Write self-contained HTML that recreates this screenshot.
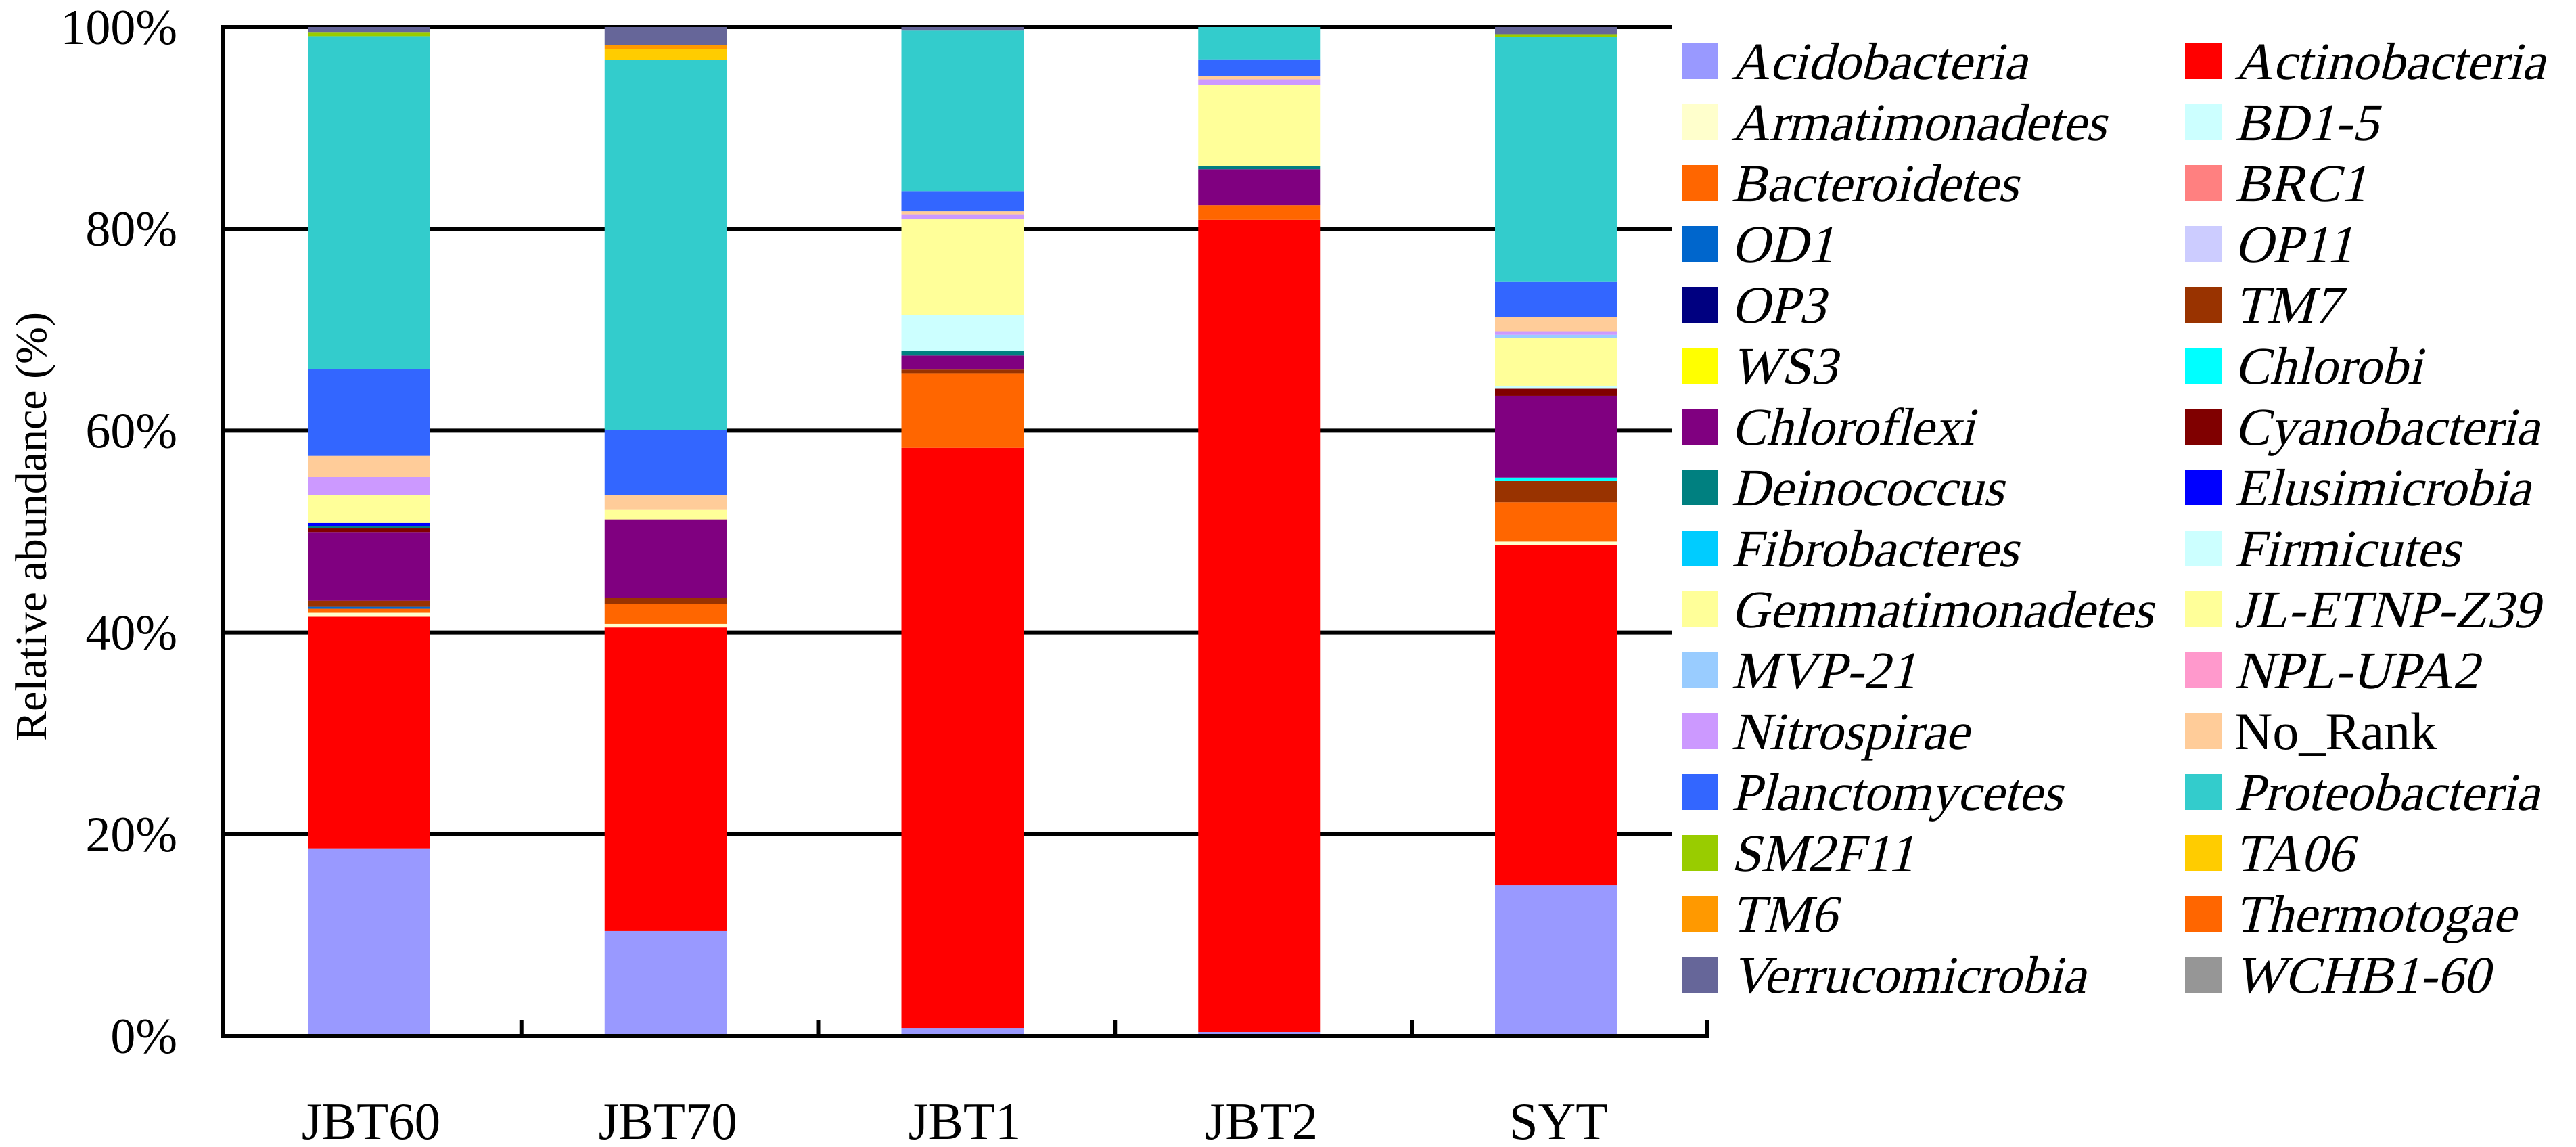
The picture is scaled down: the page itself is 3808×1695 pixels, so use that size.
<!DOCTYPE html>
<html><head><meta charset="utf-8"><style>
html,body{margin:0;padding:0;background:#fff;font-family:"Liberation Serif","Times New Roman",serif;}
svg{display:block;}
text{font-family:"Liberation Serif","Times New Roman",serif;}
</style></head><body>
<svg id="chart" width="3808" height="1695" viewBox="0 0 3808 1695" xmlns="http://www.w3.org/2000/svg">
<g id="grid"></g>
<g id="bars"></g>
<g id="axes"></g>
<g id="legend"></g>
<text x="0" y="0" font-size="66" text-anchor="middle" transform="translate(68,778) rotate(-90)">Relative abundance (%)</text>
</svg>
<script>
const categories = ["JBT60","JBT70","JBT1","JBT2","SYT"];
const phyla = ["Acidobacteria","Actinobacteria","Armatimonadetes","BD1-5","Bacteroidetes","BRC1","OD1","OP11","OP3","TM7","WS3","Chlorobi","Chloroflexi","Cyanobacteria","Deinococcus","Elusimicrobia","Fibrobacteres","Firmicutes","Gemmatimonadetes","JL-ETNP-Z39","MVP-21","NPL-UPA2","Nitrospirae","No_Rank","Planctomycetes","Proteobacteria","SM2F11","TA06","TM6","Thermotogae","Verrucomicrobia","WCHB1-60"];
const colors = ["#9999FF","#FF0000","#FFFFCC","#CCFFFF","#FF6600","#FF8080","#0066CC","#CCCCFF","#000080","#993300","#FFFF00","#00FFFF","#800080","#800000","#008080","#0000FF","#00CCFF","#CCFFFF","#FFFF99","#FFFF99","#99CCFF","#FF99CC","#CC99FF","#FFCC99","#3366FF","#33CCCC","#99CC00","#FFCC00","#FF9900","#FF6600","#666699","#969696"];
const jbt60 = [18.6,22.95,0.4,0,0.4,0,0.2,0,0,0.6,0,0,6.8,0.35,0.2,0.35,0,0,2.75,0,0,0,1.8,2.1,8.6,33.0,0.35,0,0,0,0.55,0];
const jbt70 = [10.4,30.1,0.35,0,1.95,0,0,0,0,0.65,0,0,7.75,0,0,0,0,0,1.0,0,0,0,0,1.45,6.4,36.7,0,1.1,0.35,0,1.8,0];
const jbt1 = [0.8,57.5,0,0,7.4,0,0,0,0,0.35,0,0,1.4,0,0.45,0,0,3.55,9.5,0,0,0,0.5,0.3,2.0,15.9,0,0,0,0,0.35,0];
const jbt2 = [0.4,80.5,0,0,1.45,0,0,0,0,0,0,0,3.55,0,0.35,0,0,0,8.05,0,0,0,0.5,0.35,1.65,3.2,0,0,0,0,0,0];
const syt = [14.95,33.7,0.35,0,3.9,0,0,0,0,2.1,0,0.35,8.1,0.7,0,0,0,0.3,4.7,0,0.35,0,0.35,1.4,3.55,24.2,0.3,0,0,0,0.7,0];
const sampleValues = [jbt60, jbt70, jbt1, jbt2, syt];
const yTicks = [0,20,40,60,80,100];
const yTickLabels = ["0%","20%","40%","60%","80%","100%"];

const NS = "http://www.w3.org/2000/svg";
const X0 = 330, CAT = 438.75, FIRST = 545.5, BARW = 181;
const Y0 = 1531, PPU = 14.91;
const GRID_END = 2471, AXIS_END = 2526;
function yScale(v){ return Y0 - v*PPU; }
function xCenter(i){ return FIRST + i*CAT; }
function mk(tag, attrs, parent){ const e=document.createElementNS(NS,tag); for(const k in attrs) e.setAttribute(k,attrs[k]); parent.appendChild(e); return e; }

const grid = document.getElementById('grid');
const bars = document.getElementById('bars');
const axes = document.getElementById('axes');
const legend = document.getElementById('legend');

yTicks.forEach((t,i)=>{
  if(t>0){
    const l = mk('line',{x1:X0,x2:GRID_END,y1:yScale(t),y2:yScale(t),stroke:'#000','stroke-width':6},grid);
    
    
  }
  const tx = mk('text',{x:262,y:yScale(t)+25,'font-size':74,'text-anchor':'end'},axes);
  tx.textContent = yTickLabels[i];
  
  
});

sampleValues.forEach((vals,ci)=>{
  const g = mk('g',{},bars);
  
  
  let cum = 0;
  vals.forEach((v,pi)=>{
    if(v<=0) return;
    const yt = yScale(cum+v), yb = yScale(cum);
    const r = mk('rect',{x:xCenter(ci)-BARW/2,y:yt,width:BARW,height:yb-yt,fill:colors[pi]},g);
    
    
    cum += v;
  });
  const lab = mk('text',{x:xCenter(ci)+3,y:1683,'font-size':77,'text-anchor':'middle'},axes);
  lab.textContent = categories[ci];
  
  
});

const yAxis = mk('line',{x1:X0,x2:X0,y1:37,y2:Y0+3,stroke:'#000','stroke-width':6},axes);


const xAxis = mk('line',{x1:X0-3,x2:AXIS_END,y1:Y0,y2:Y0,stroke:'#000','stroke-width':6},axes);


for(let i=1;i<=5;i++){
  const tx = (i<5) ? X0+i*CAT+2 : AXIS_END-3;
  const tk = mk('line',{x1:tx,x2:tx,y1:Y0,y2:1508,stroke:'#000','stroke-width':6},axes);
  
  
}

phyla.forEach((p,i)=>{
  const col = i%2, row = Math.floor(i/2);
  const top = 64 + row*90;
  const sx = col===0 ? 2486 : 3230;
  const g = mk('g',{},legend);
  
  
  const sw = mk('rect',{x:sx,y:top,width:54,height:53,fill:colors[i]},g);
  
  
  const skew = (p==='No_Rank') ? '' : ' skewX(-14)';
  const t = mk('text',{x:0,y:0,'font-size':78,style:"font-family:'Liberation Serif','Times New Roman',serif;font-style:normal",transform:'translate('+(sx+73)+','+(top+53)+')'+skew},g);
  t.textContent = p;
  
  
});
</script>
</body></html>
